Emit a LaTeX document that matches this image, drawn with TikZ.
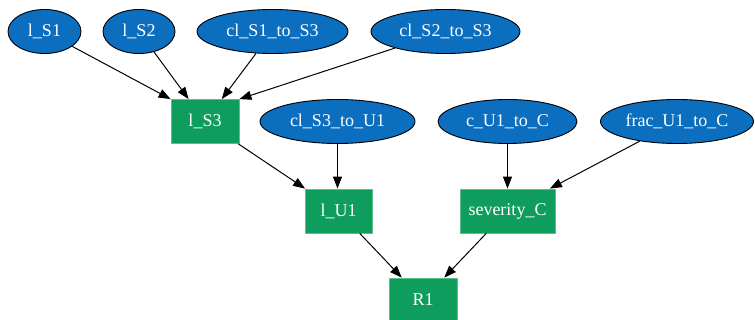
\documentclass[tikz,border=0pt]{standalone}
\usepackage{fontspec}
\setmainfont{Liberation Serif}
\usetikzlibrary{shapes.geometric,arrows.meta}
\definecolor{varblue}{HTML}{0B6EBF}
\definecolor{calcgreen}{HTML}{0F9D5D}
\definecolor{calcedge}{HTML}{5DBF8E}
\tikzset{
  inputvar/.style={ellipse, draw=black, line width=0.9pt, fill=varblue,
    text=white, inner sep=0pt, minimum height=44pt, font=\fontsize{18}{18}\selectfont},
  calcbox/.style={rectangle, draw=calcedge, line width=0.8pt, fill=calcgreen,
    text=white, inner sep=0pt, minimum height=44pt, font=\fontsize{18}{18}\selectfont},
  link/.style={draw=black, line width=1pt, -{Triangle[length=12pt,width=9pt]}}
}
\begin{document}
\begin{tikzpicture}[x=1pt,y=1pt]
\useasboundingbox (0,0) rectangle (755,-320);
% top row of input variables
\node[inputvar, minimum width=73pt]  (ls1)   at (44.5,-31.5)  {l\_S1};
\node[inputvar, minimum width=72pt]  (ls2)   at (139,-31.5)   {l\_S2};
\node[inputvar, minimum width=151pt] (cls1)  at (272.5,-31.5) {cl\_S1\_to\_S3};
\node[inputvar, minimum width=149pt] (cls2)  at (445.5,-31.5) {cl\_S2\_to\_S3};
% second row
\node[calcbox, minimum width=68pt]   (ls3)   at (205,-121.5)  {l\_S3};
\node[inputvar, minimum width=155pt] (cls3)  at (337.5,-121.5){cl\_S3\_to\_U1};
\node[inputvar, minimum width=139pt] (cu1)   at (507.5,-121.5){c\_U1\_to\_C};
\node[inputvar, minimum width=153pt] (fracu1)at (677,-121.5)  {frac\_U1\_to\_C};
% third row
\node[calcbox, minimum width=67pt]   (lu1)   at (338.5,-211)  {l\_U1};
\node[calcbox, minimum width=95pt]   (sevc)  at (507.5,-211)  {severity\_C};
% result
\node[calcbox, minimum width=68pt]   (r1)    at (423,-300)    {R1};
% dependencies
\draw[link] (ls1) -- (ls3.north west);
\draw[link] (ls2) -- (ls3);
\draw[link] (cls1) -- (ls3);
\draw[link] (cls2) -- (ls3.north east);
\draw[link] (ls3) -- (lu1);
\draw[link] (cls3) -- (cls3 |- lu1.north);
\draw[link] (cu1) -- (cu1 |- sevc.north);
\draw[link] (fracu1) -- (sevc);
\draw[link] (lu1) -- (r1);
\draw[link] (sevc) -- (r1);
\end{tikzpicture}
\end{document}
